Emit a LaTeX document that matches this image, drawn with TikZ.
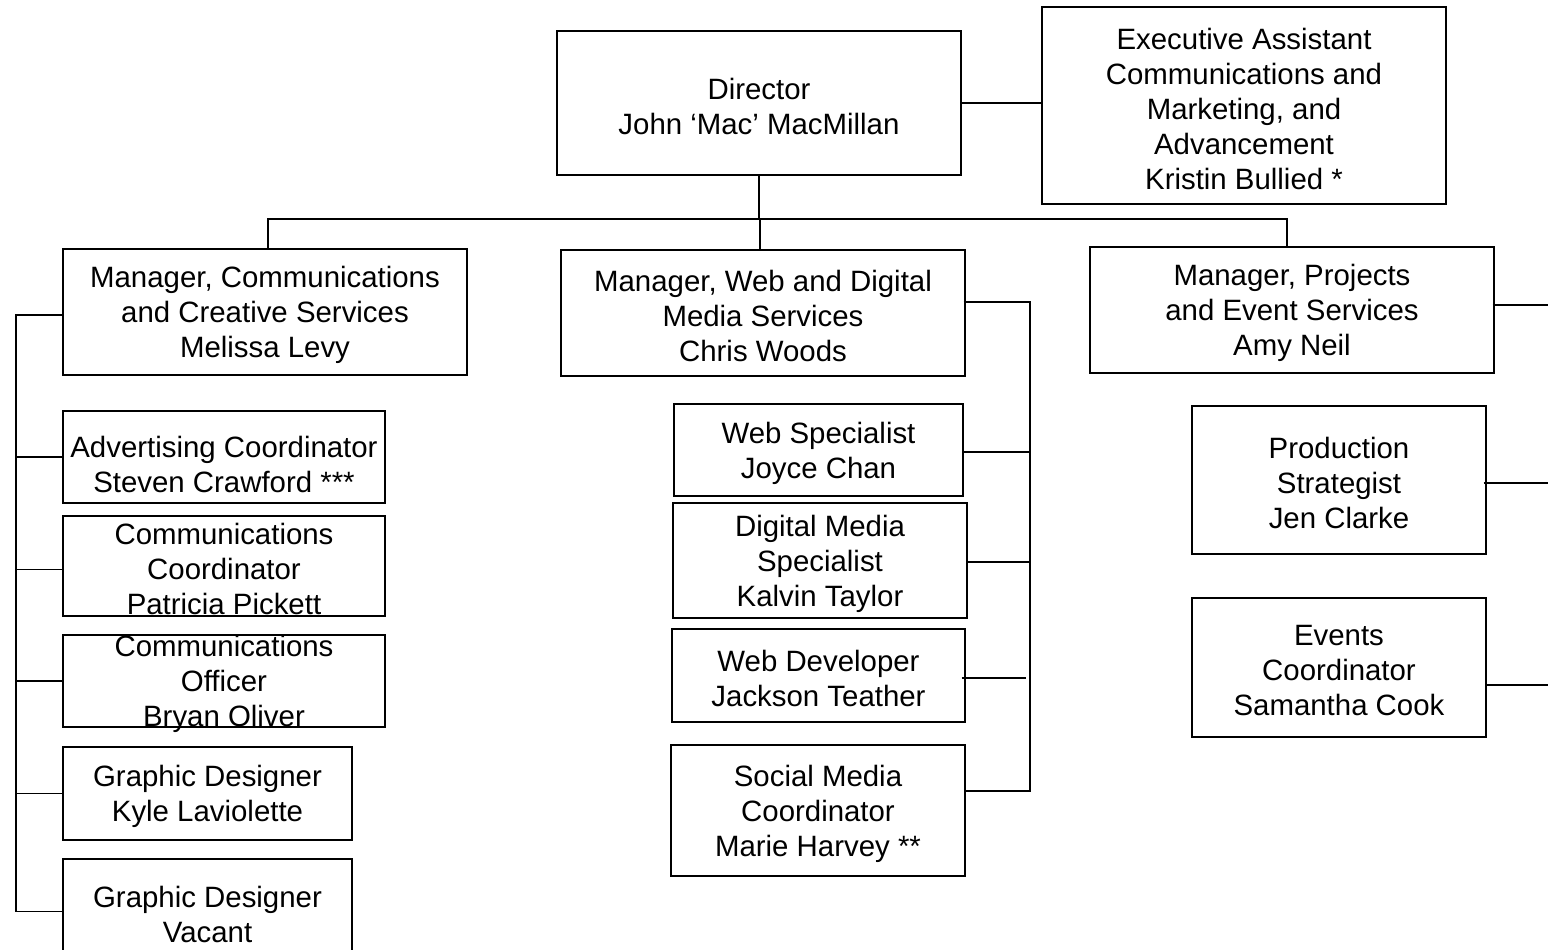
\documentclass[tikz,border=0pt]{standalone}
\usepackage{fontspec}
\setmainfont{Liberation Sans}
\begin{document}
\begin{tikzpicture}[x=1pt,y=-1pt,
  box/.style={draw, line width=1.3pt, inner sep=0pt, rectangle},
  txt/.style={inner sep=0pt, align=center, yshift=-3pt, font=\fontsize{29.4}{35}\selectfont},
  wire/.style={line width=1.3pt}]
\useasboundingbox (0,0) rectangle (1548,950);
\clip (0,0) rectangle (1548,950);
\fill[white] (0,0) rectangle (1548,950);

% top level
\node[box, minimum width=404pt, minimum height=144pt, label={[txt]center:{Director\\John ‘Mac’ MacMillan}}] (dir) at (759,103) {};
\node[box, minimum width=404pt, minimum height=197pt, label={[txt]center:{Executive Assistant\\Communications and\\Marketing, and\\Advancement\\Kristin Bullied *}}] (ea) at (1244,105.5) {};

% managers
\node[box, minimum width=404pt, minimum height=126pt, label={[txt]center:{Manager, Communications\\and Creative Services\\Melissa Levy}}] (mc) at (265,312) {};
\node[box, minimum width=404pt, minimum height=126pt, label={[txt]center:{Manager, Web and Digital\\Media Services\\Chris Woods}}] (mw) at (763,313) {};
\node[box, minimum width=404pt, minimum height=126pt, label={[txt]center:{Manager, Projects\\and Event Services\\Amy Neil}}] (mp) at (1292,310) {};

% communications staff
\node[box, minimum width=322pt, minimum height=92pt, label={[txt,yshift=-4pt]center:{Advertising Coordinator\\Steven Crawford ***}}] (adv) at (224,457) {};
\node[box, minimum width=322pt, minimum height=100pt, label={[txt]center:{Communications\\Coordinator\\Patricia Pickett}}] (cc) at (224,566) {};
\node[box, minimum width=322pt, minimum height=92pt, label={[txt]center:{Communications\\Officer\\Bryan Oliver}}] (co) at (224,681) {};
\node[box, minimum width=289pt, minimum height=93pt, label={[txt]center:{Graphic Designer\\Kyle Laviolette}}] (gk) at (207.5,793.5) {};
\node[box, minimum width=289pt, minimum height=105pt, label={[txt]center:{Graphic Designer\\Vacant}}] (gv) at (207.5,911.5) {};

% web staff
\node[box, minimum width=289pt, minimum height=92pt, label={[txt]center:{Web Specialist\\Joyce Chan}}] (ws) at (818.5,450) {};
\node[box, minimum width=294pt, minimum height=115pt, label={[txt]center:{Digital Media\\Specialist\\Kalvin Taylor}}] (dm) at (820,560.5) {};
\node[box, minimum width=293pt, minimum height=93pt, label={[txt]center:{Web Developer\\Jackson Teather}}] (wd) at (818.5,675.5) {};
\node[box, minimum width=294pt, minimum height=131pt, label={[txt]center:{Social Media\\Coordinator\\Marie Harvey **}}] (sm) at (818,810.5) {};

% project staff
\node[box, minimum width=294pt, minimum height=148pt, label={[txt]center:{Production\\Strategist\\Jen Clarke}}] (ps) at (1339,480) {};
\node[box, minimum width=294pt, minimum height=139pt, label={[txt]center:{Events\\Coordinator\\Samantha Cook}}] (ev) at (1339,667.5) {};

% bus coordinates
\coordinate (hb) at (0,219);
\coordinate (lb) at (16,0);
\coordinate (wb) at (1030,0);
\coordinate (rb) at (1548,0);

% top connectors
\draw[wire] (dir.east) -- (dir.east -| ea.west);
\draw[wire] (dir.south) -- (dir.south |- hb);
\draw[wire] ([xshift=3pt]mc.north) -- ([xshift=3pt]mc.north |- hb) -- ([xshift=-5pt]mp.north |- hb) -- ([xshift=-5pt]mp.north);
\draw[wire] ([xshift=-3pt]mw.north) -- ([xshift=-3pt]mw.north |- hb);

% left bus
\draw[wire] ([yshift=-3pt]mc.west) -- ([yshift=-3pt]mc.west -| lb) -- (gv.west -| lb) -- (gv.west);
\draw[wire] (adv.west) -- (adv.west -| lb);
\draw[wire] ([yshift=-3.5pt]cc.west) -- ([yshift=-3.5pt]cc.west -| lb);
\draw[wire] (co.west) -- (co.west -| lb);
\draw[wire] (gk.west) -- (gk.west -| lb);

% web bus
\draw[wire] ([yshift=11pt,xshift=-2pt]mw.east) -- ([yshift=11pt]mw.east -| wb) -- ([yshift=19.5pt]sm.east -| wb) -- ([yshift=19.5pt]sm.east);
\draw[wire] ([yshift=-2pt]ws.east) -- ([yshift=-2pt]ws.east -| wb);
\draw[wire] ([yshift=-1.5pt]dm.east) -- ([yshift=-1.5pt]dm.east -| wb);
\draw[wire] ([yshift=-2.5pt,xshift=-4pt]wd.east) -- ([yshift=-2.5pt,xshift=-4pt]wd.east -| wb);

% project lines
\draw[wire] ([yshift=5pt,xshift=-2pt]mp.east) -- ([yshift=5pt]mp.east -| rb);
\draw[wire] ([yshift=-3pt,xshift=-3pt]ps.east) -- ([yshift=-3pt]ps.east -| rb);
\draw[wire] ([yshift=-17.5pt]ev.east) -- ([yshift=-17.5pt]ev.east -| rb);
\end{tikzpicture}
\end{document}
